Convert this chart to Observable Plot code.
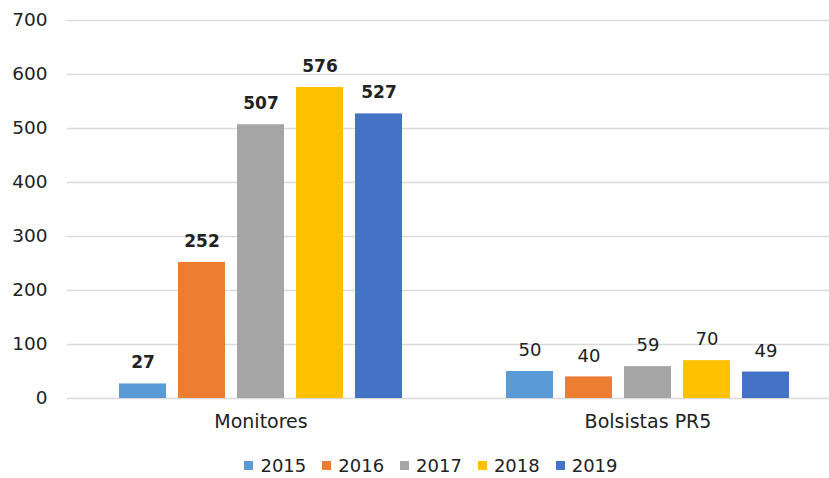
<!DOCTYPE html>
<html>
<head>
<meta charset="utf-8">
<script src="https://cdn.jsdelivr.net/npm/d3@7"></script>
<script src="https://cdn.jsdelivr.net/npm/@observablehq/plot@0.6"></script>
<style>
  html, body { margin: 0; padding: 0; background: #fff; overflow: hidden; width: 829px; height: 478px; }
  #chart { position: absolute; left: 0; top: 0; width: 841px; }
  #chart svg { max-width: none !important; }
  #legend { position: absolute; left: 0; top: 455px; width: 862px; display: flex; justify-content: center; font-family: "DejaVu Sans", sans-serif; font-size: 18px; color: #222; }
  .item { display: flex; align-items: center; margin: 0 8px; }
  .sw { width: 9px; height: 9px; margin-right: 7px; }
</style>
</head>
<body>
<div id="chart"></div>
<div id="legend"></div>
<script>
const categories = ["Monitores", "Bolsistas PR5"];
const years = ["2015", "2016", "2017", "2018", "2019"];
const monitores = [27, 252, 507, 576, 527];
const bolsistas = [50, 40, 59, 70, 49];
const yTicks = [0, 100, 200, 300, 400, 500, 600, 700];
const colors = ["#5B9BD5", "#ED7D31", "#A5A5A5", "#FFC000", "#4472C4"];

const data = categories.flatMap((c, i) =>
  years.map((y, j) => ({category: c, year: y, value: (i === 0 ? monitores : bolsistas)[j]}))
);

const chart = Plot.plot({
  width: 841,
  height: 445,
  marginLeft: 66,
  marginRight: 0,
  marginTop: 20,
  marginBottom: 47,
  style: {fontFamily: "DejaVu Sans, sans-serif", color: "#222", background: "transparent", maxWidth: "none"},
  fx: {domain: categories, padding: 0, label: null},
  x: {domain: years, axis: null, paddingInner: 0.21, paddingOuter: 0.85},
  y: {domain: [0, 700], label: null},
  color: {domain: years, range: colors},
  marks: [
    Plot.gridY(yTicks, {stroke: "#d9d9d9", strokeOpacity: 1, strokeWidth: 1.5}),
    Plot.axisY(yTicks, {tickSize: 0, tickPadding: 20, fontSize: 18.5, label: null, fill: "#222"}),
    Plot.barY(data, {fx: "category", x: "year", y: "value", fill: "year"}),
    Plot.text(data, {filter: d => d.category === "Monitores", fx: "category", x: "year", y: "value", text: d => String(d.value), dy: -21, fontSize: 17, fontWeight: "bold", fill: "#222"}),
    Plot.text(data, {filter: d => d.category !== "Monitores", fx: "category", x: "year", y: "value", text: d => String(d.value), dy: -21, fontSize: 18, fill: "#222"}),
    Plot.axisFx({anchor: "bottom", tickSize: 0, tickPadding: 16, fontSize: 19, label: null, fill: "#222", style: {letterSpacing: "0.5px"}})
  ]
});
document.getElementById("chart").appendChild(chart);

const legend = document.getElementById("legend");
years.forEach((y, i) => {
  const item = document.createElement("div");
  item.className = "item";
  const sw = document.createElement("span");
  sw.className = "sw";
  sw.style.background = colors[i];
  const t = document.createElement("span");
  t.textContent = y;
  item.appendChild(sw);
  item.appendChild(t);
  legend.appendChild(item);
});
</script>
</body>
</html>
